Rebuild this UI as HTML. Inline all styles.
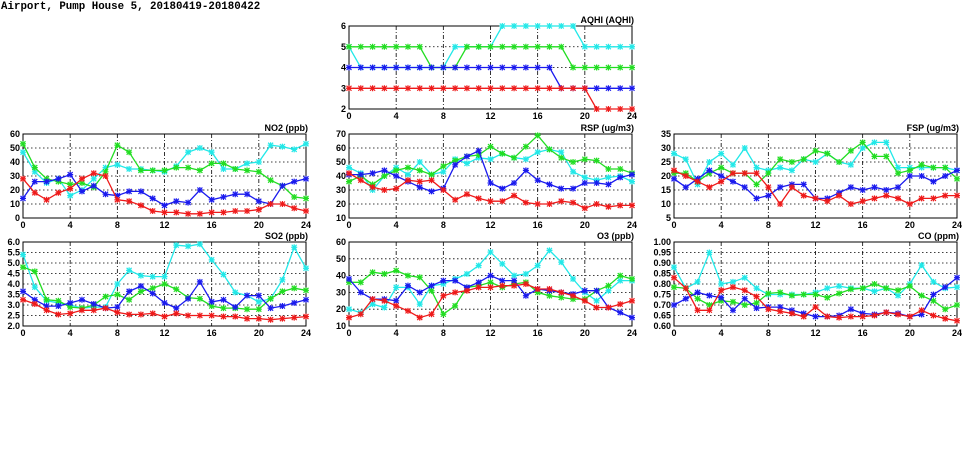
<!DOCTYPE html>
<html><head><meta charset="utf-8"><style>
body{margin:0;background:#fff;width:975px;height:447px;overflow:hidden}
svg text{font-family:"Liberation Sans",sans-serif;font-weight:bold;font-size:9px;fill:#000}
svg text.mono{font-family:"Liberation Mono",monospace;font-size:10.8px}
</style></head><body>
<svg id="c" width="975" height="447">
<text class="mono" x="1" y="9">Airport, Pump House 5, 20180419-20180422</text>
</svg>
<script>
const hours=[0,1,2,3,4,5,6,7,8,9,10,11,12,13,14,15,16,17,18,19,20,21,22,23,24];
const xTicks=[0,4,8,12,16,20,24];
const aqhiCyan=[5,4,4,4,4,4,4,4,4,5,5,5,5,6,6,6,6,6,6,6,5,5,5,5,5];
const aqhiGreen=[5,5,5,5,5,5,5,4,4,4,5,5,5,5,5,5,5,5,5,4,4,4,4,4,4];
const aqhiBlue=[4,4,4,4,4,4,4,4,4,4,4,4,4,4,4,4,4,4,3,3,3,3,3,3,3];
const aqhiRed=[3,3,3,3,3,3,3,3,3,3,3,3,3,3,3,3,3,3,3,3,3,2,2,2,2];
const no2Cyan=[47,33,25,28,16,20,28,36,38,35,35,34,33,37,47,50,47,35,35,39,40,52,51,49,53];
const no2Green=[53,36,28,26,24,25,22,33,52,47,34,34,34,36,36,34,39,39,35,34,33,27,23,15,14];
const no2Blue=[14,26,26,28,31,19,23,17,16,19,19,14,9,12,11,20,13,15,17,17,12,10,23,26,28];
const no2Red=[28,18,13,18,21,28,32,30,13,12,9,5,4,4,3,3,4,4,5,5,6,10,10,7,5];
const rspCyan=[46,42,30,40,46,41,50,41,43,52,49,53,52,56,53,52,57,59,57,43,39,37,39,40,36];
const rspGreen=[36,40,34,40,44,46,44,41,47,51,54,55,61,56,53,61,69,59,53,50,52,51,45,45,42];
const rspBlue=[41,41,42,44,40,36,32,29,31,48,54,58,35,31,35,44,37,34,31,31,35,35,34,39,41];
const rspRed=[42,37,32,30,31,37,36,37,30,23,27,24,22,22,26,21,20,20,22,21,17,20,18,19,19];
const fspCyan=[28,26,17,25,28,24,30,23,22,23,22,26,25,28,25,24,30,32,32,23,23,23,23,23,22];
const fspGreen=[21,21,18,21,23,21,21,17,21,26,25,26,29,28,25,29,32,27,27,21,22,24,23,23,19];
const fspBlue=[19,16,19,22,20,18,16,12,13,16,17,17,12,12,14,16,15,16,15,16,20,20,18,20,22];
const fspRed=[22,20,18,16,18,21,21,21,16,10,16,13,12,11,13,10,11,12,13,12,10,12,12,13,13];
const so2Cyan=[5.4,3.85,3.2,3.1,3.0,2.85,2.9,2.9,4.0,4.65,4.4,4.35,4.35,5.85,5.8,5.9,5.15,4.45,3.6,3.45,3.15,3.3,4.2,5.75,4.75];
const so2Green=[4.8,4.6,3.25,3.2,2.9,2.85,3.0,3.4,3.5,3.25,3.65,3.8,4.0,3.75,3.35,3.3,2.95,2.85,2.85,2.8,2.8,3.3,3.65,3.8,3.7];
const so2Blue=[3.65,3.25,2.95,2.95,3.1,3.25,3.05,2.85,2.9,3.65,3.9,3.55,3.1,2.85,3.3,4.1,3.15,3.25,2.9,3.45,3.45,2.85,2.95,3.1,3.25];
const so2Red=[3.25,3.05,2.75,2.55,2.6,2.75,2.75,2.85,2.65,2.55,2.55,2.6,2.45,2.6,2.5,2.5,2.5,2.45,2.45,2.35,2.35,2.3,2.35,2.4,2.45];
const o3Cyan=[20,18,23,21,33,33,23,34,35,38,41,46,54,47,40,41,46,55,48,38,30,25,31,37,37];
const o3Green=[36,36,42,41,43,40,39,31,17,22,33,34,36,33,35,36,30,28,27,26,26,31,34,40,38];
const o3Blue=[38,30,26,26,25,34,30,34,37,37,33,36,40,37,37,28,32,31,30,29,31,31,21,18,15];
const o3Red=[15,17,26,25,22,19,15,17,28,30,31,33,33,34,34,35,32,32,30,28,25,21,21,23,25];
const coCyan=[.88,.78,.81,.95,.80,.81,.83,.78,.75,.75,.75,.75,.76,.78,.79,.78,.78,.765,.78,.745,.80,.89,.81,.78,.785];
const coGreen=[.785,.78,.73,.70,.72,.715,.70,.71,.755,.76,.745,.75,.75,.735,.755,.775,.78,.80,.78,.77,.79,.745,.72,.68,.70];
const coBlue=[.70,.73,.76,.745,.735,.675,.73,.685,.69,.69,.675,.66,.645,.645,.65,.68,.66,.655,.665,.66,.645,.655,.75,.785,.83];
const coRed=[.83,.78,.675,.675,.77,.785,.77,.74,.68,.67,.66,.645,.69,.645,.64,.645,.645,.65,.665,.655,.645,.675,.65,.635,.625];

const NS='http://www.w3.org/2000/svg';
const svg=document.getElementById('c');
function mk(tag,attrs,parent){const e=document.createElementNS(NS,tag);for(const k in attrs)e.setAttribute(k,attrs[k]);(parent||svg).appendChild(e);return e;}
const colors={cyan:'#22e8e8',green:'#22dd22',blue:'#1a1aee',red:'#ee1a1a'};
const panels=[
 {key:'aqhi',title:'AQHI (AQHI)',x0:349,x1:632,y0:26,y1:109,min:2,max:6,step:1,dec:0,series:{cyan:aqhiCyan,green:aqhiGreen,blue:aqhiBlue,red:aqhiRed}},
 {key:'no2',title:'NO2 (ppb)',x0:23,x1:306,y0:134,y1:218,min:0,max:60,step:10,dec:0,series:{cyan:no2Cyan,green:no2Green,blue:no2Blue,red:no2Red}},
 {key:'rsp',title:'RSP (ug/m3)',x0:349,x1:632,y0:134,y1:218,min:10,max:70,step:10,dec:0,series:{cyan:rspCyan,green:rspGreen,blue:rspBlue,red:rspRed}},
 {key:'fsp',title:'FSP (ug/m3)',x0:674,x1:957,y0:134,y1:218,min:5,max:35,step:5,dec:0,series:{cyan:fspCyan,green:fspGreen,blue:fspBlue,red:fspRed}},
 {key:'so2',title:'SO2 (ppb)',x0:23,x1:306,y0:242,y1:326,min:2,max:6,step:0.5,dec:1,series:{cyan:so2Cyan,green:so2Green,blue:so2Blue,red:so2Red}},
 {key:'o3',title:'O3 (ppb)',x0:349,x1:632,y0:242,y1:326,min:10,max:60,step:10,dec:0,series:{cyan:o3Cyan,green:o3Green,blue:o3Blue,red:o3Red}},
 {key:'co',title:'CO (ppm)',x0:674,x1:957,y0:242,y1:326,min:0.6,max:1.0,step:0.05,dec:2,series:{cyan:coCyan,green:coGreen,blue:coBlue,red:coRed}}
];
panels.forEach(p=>{
  const g=mk('g',{});
  
  
  const xs=h=>p.x0+(h/24)*(p.x1-p.x0);
  const ys=v=>p.y1-(v-p.min)/(p.max-p.min)*(p.y1-p.y0);
  const n=Math.round((p.max-p.min)/p.step);
  for(let i=0;i<=n;i++){
    const v=p.min+i*p.step,y=ys(v);
    if(i>0&&i<n){const l=mk('line',{x1:p.x0,x2:p.x1,y1:y,y2:y,stroke:'#000','stroke-width':0.8,'stroke-dasharray':'1.5,2.5'},g);
      }
    const t=mk('text',{x:p.x0-3,y:y+3,'text-anchor':'end'},g);t.textContent=v.toFixed(p.dec);
    
  }
  xTicks.forEach(h=>{
    const x=xs(h);
    if(h>0&&h<24){const l=mk('line',{x1:x,x2:x,y1:p.y0,y2:p.y1,stroke:'#000','stroke-width':0.8,'stroke-dasharray':'4,2,1,2'},g);
      }
    const t=mk('text',{x:x,y:p.y1+10,'text-anchor':'middle'},g);t.textContent=h;
    
  });
  const fr=mk('rect',{x:p.x0,y:p.y0,width:p.x1-p.x0,height:p.y1-p.y0,fill:'none',stroke:'#000','stroke-width':1},g);
  
  const tt=mk('text',{x:p.x1+2,y:p.y0-3,'text-anchor':'end'},g);tt.textContent=p.title;
  
  ['cyan','green','blue','red'].forEach(c=>{
    const vals=p.series[c];
    const pts=hours.map((h,i)=>xs(h).toFixed(1)+','+ys(vals[i]).toFixed(1)).join(' ');
    const pl=mk('polyline',{points:pts,fill:'none',stroke:colors[c],'stroke-width':1.3},g);
    
    hours.forEach((h,i)=>{
      const x=xs(h),y=ys(vals[i]);
      const m=mk('path',{d:`M${x-2.5},${y-2.5}L${x+2.5},${y+2.5}M${x-2.5},${y+2.5}L${x+2.5},${y-2.5}M${x},${y-3}L${x},${y+3}M${x-3},${y}L${x+3},${y}`,stroke:colors[c],'stroke-width':1.2},g);
      
    });
  });
});
</script>
</body></html>
